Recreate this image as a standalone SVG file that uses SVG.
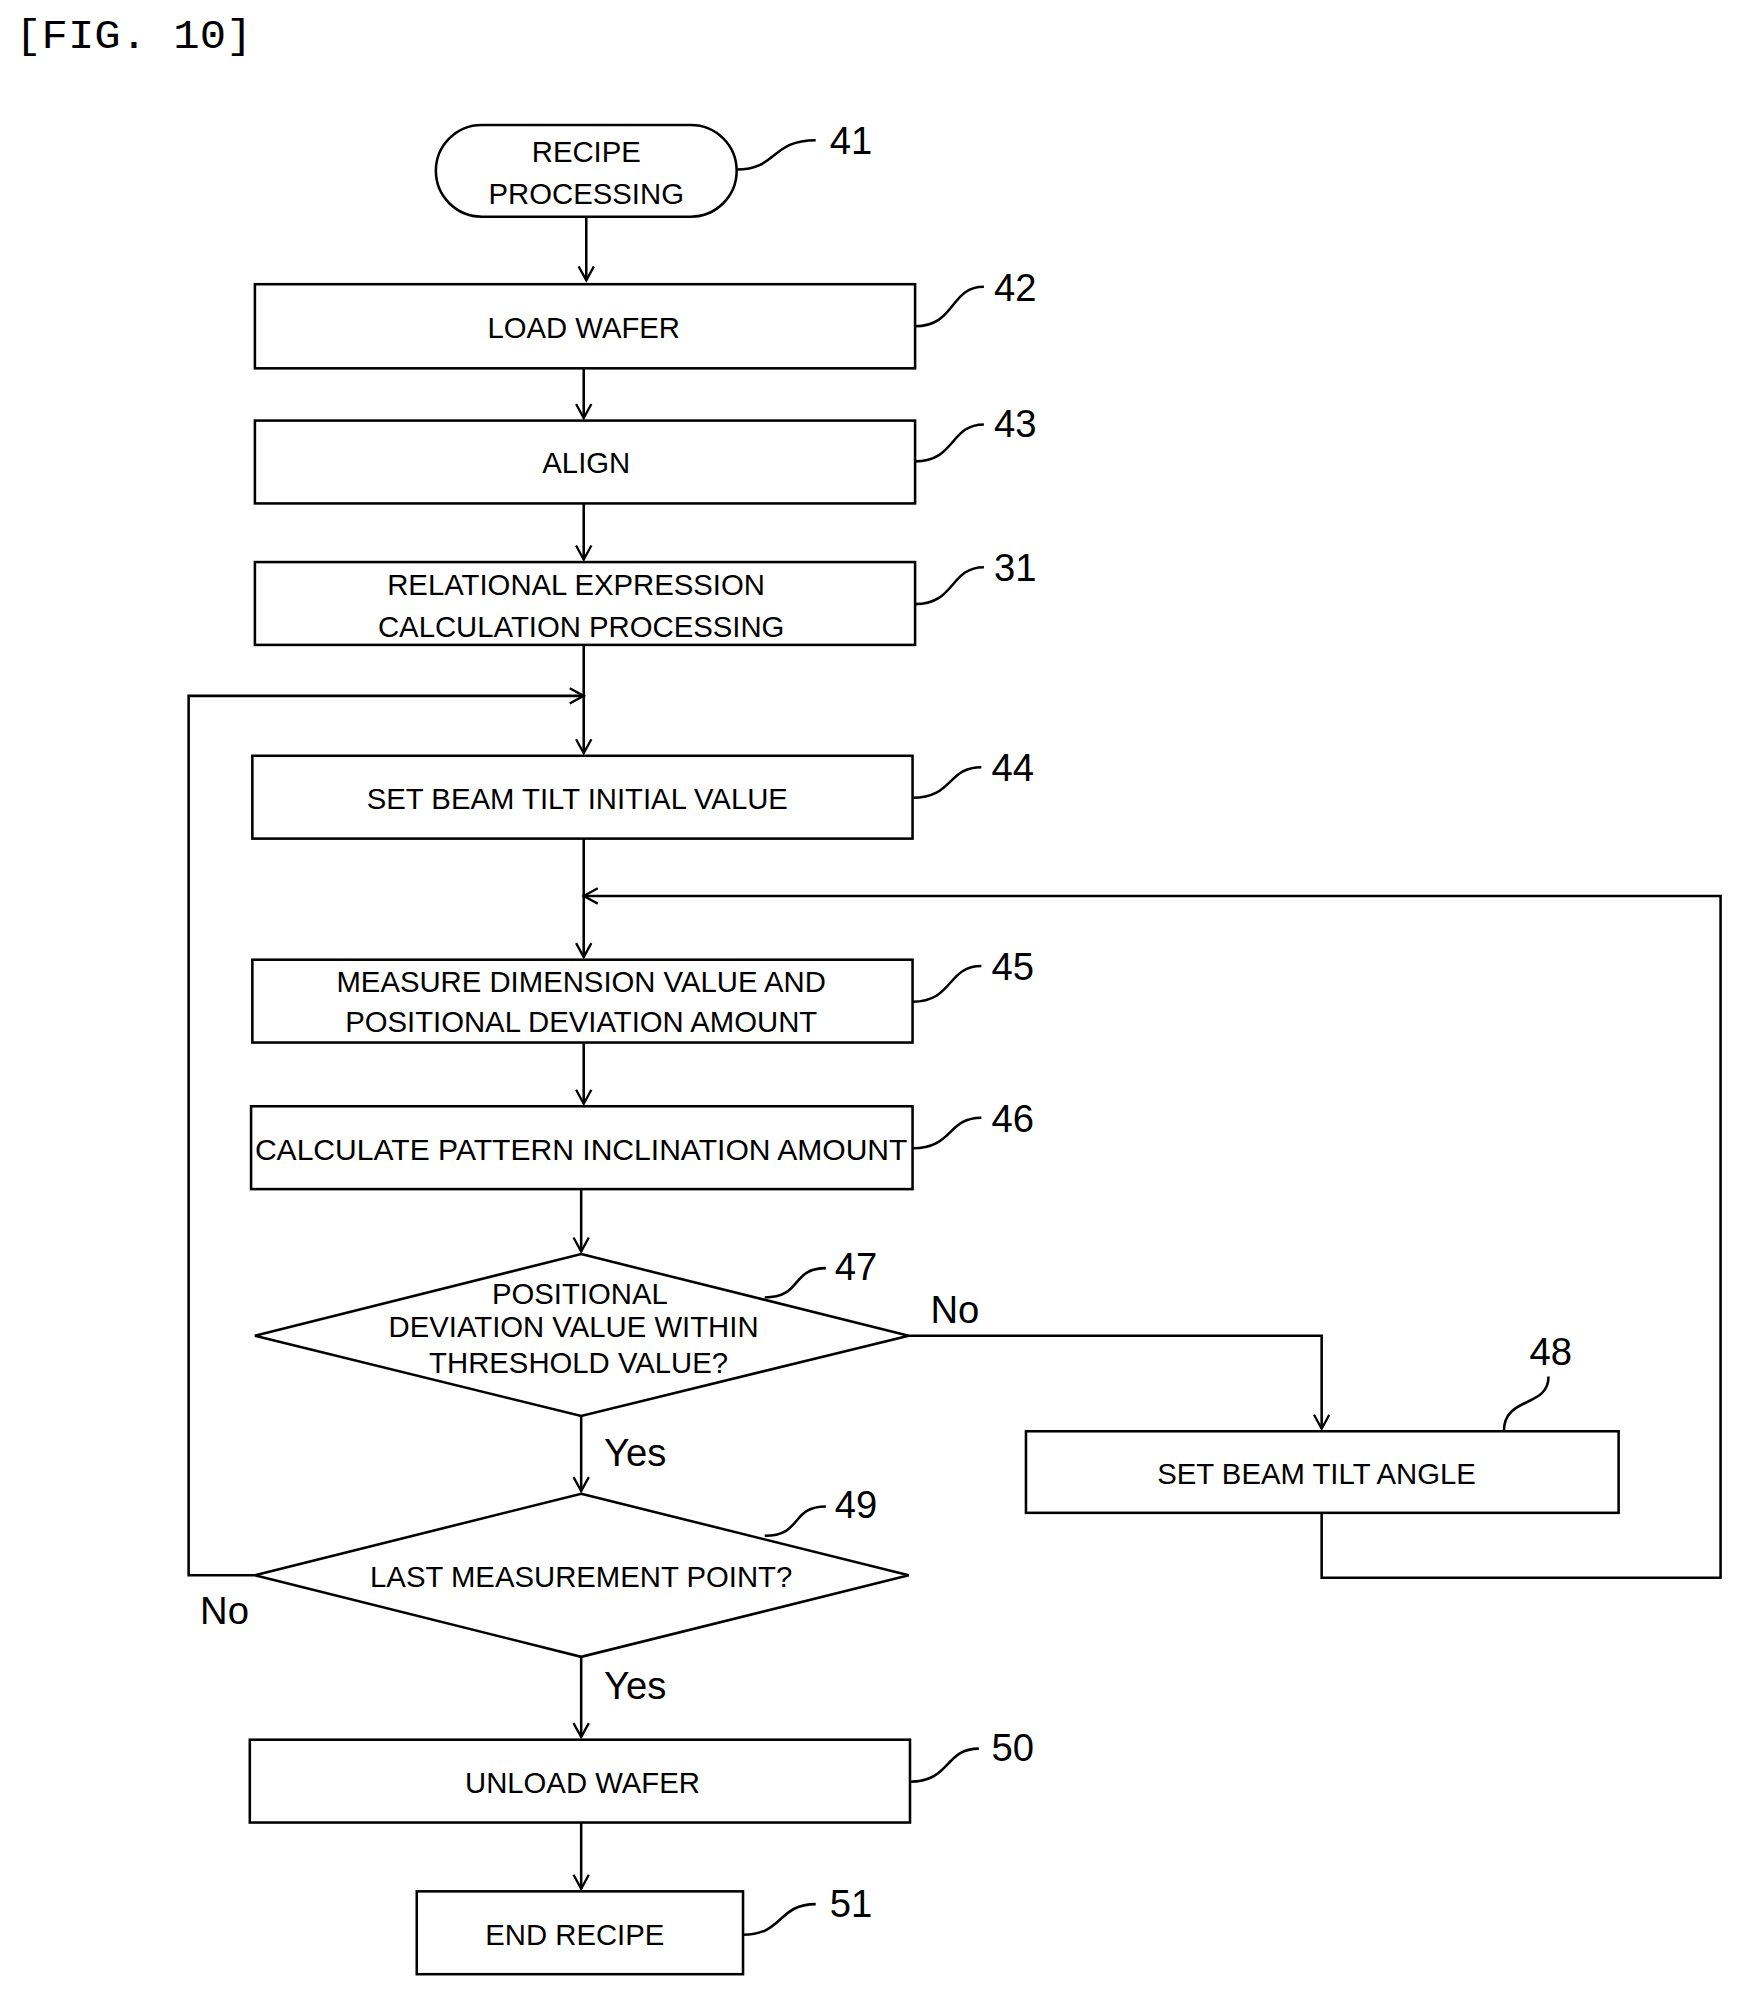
<svg xmlns="http://www.w3.org/2000/svg" width="1741" height="1994" viewBox="0 0 1741 1994">
<style>
.b{fill:#fff;stroke:#000;stroke-width:2}
.t{font-family:"Liberation Sans",Arial,sans-serif;font-size:23px;text-anchor:middle;fill:#000}
.n{font-family:"Liberation Sans",Arial,sans-serif;font-size:30px;fill:#000}
.l{fill:none;stroke:#000;stroke-width:2}
</style>
<defs><marker id="a" markerWidth="14" markerHeight="14" refX="12" refY="7" orient="auto" markerUnits="userSpaceOnUse"><path d="M1,1 L12,7 L1,13" fill="none" stroke="#000" stroke-width="1.8"/></marker></defs>
<rect width="1741" height="1994" fill="#fff"/>
<g transform="scale(1.2745)">
<text x="12" y="38" font-family="Liberation Mono,monospace" font-size="32" textLength="186" lengthAdjust="spacingAndGlyphs">[FIG. 10]</text>
<g id="connectors" class="l">
<path d="M460,170 V220" marker-end="url(#a)"/>
<path d="M458,289 V328" marker-end="url(#a)"/>
<path d="M458,395 V439" marker-end="url(#a)"/>
<path d="M458,506 V591" marker-end="url(#a)"/>
<path d="M200,1236 H148 V546 H458" marker-end="url(#a)"/>
<path d="M458,658 V751" marker-end="url(#a)"/>
<path d="M1037,1187 V1238 H1350 V703 H458" marker-end="url(#a)"/>
<path d="M458,818 V866" marker-end="url(#a)"/>
<path d="M456,933 V982" marker-end="url(#a)"/>
<path d="M713,1048 H1037 V1121" marker-end="url(#a)"/>
<path d="M456,1111 V1170" marker-end="url(#a)"/>
<path d="M456,1300 V1363" marker-end="url(#a)"/>
<path d="M456,1430 V1482" marker-end="url(#a)"/>
<path d="M578,133 C610,133 605,110 640,110"/>
<path d="M718,256 C750,256 745,225 772,225"/>
<path d="M718,362 C750,362 745,333 772,333"/>
<path d="M718,474 C750,474 745,445 772,445"/>
<path d="M716,626 C748,626 743,602 770,602"/>
<path d="M716,786 C748,786 743,758 770,758"/>
<path d="M716,901 C748,901 743,877 770,877"/>
<path d="M600,1018 C630,1018 620,995 648,995"/>
<path d="M1180,1123 C1180,1095 1215,1105 1215,1080"/>
<path d="M600,1205 C630,1205 620,1182 648,1182"/>
<path d="M714,1398 C746,1398 741,1372 768,1372"/>
<path d="M583,1518 C615,1518 610,1494 640,1494"/>
</g>
<g id="n41"><rect class="b" x="342" y="98" width="236" height="72" rx="36"/><text class="t" x="460" y="127">RECIPE</text><text class="t" x="460" y="160">PROCESSING</text><text class="n" x="651" y="121">41</text></g>
<g id="n42"><rect class="b" x="200" y="223" width="518" height="66"/><text class="t" x="458" y="265">LOAD WAFER</text><text class="n" x="780" y="236">42</text></g>
<g id="n43"><rect class="b" x="200" y="330" width="518" height="65"/><text class="t" x="460" y="371">ALIGN</text><text class="n" x="780" y="343">43</text></g>
<g id="n31"><rect class="b" x="200" y="441" width="518" height="65"/><text class="t" x="452" y="467">RELATIONAL EXPRESSION</text><text class="t" x="456" y="500">CALCULATION PROCESSING</text><text class="n" x="780" y="456">31</text></g>
<g id="n44"><rect class="b" x="198" y="593" width="518" height="65"/><text class="t" x="453" y="635">SET BEAM TILT INITIAL VALUE</text><text class="n" x="778" y="613">44</text></g>
<g id="n45"><rect class="b" x="198" y="753" width="518" height="65"/><text class="t" x="456" y="778">MEASURE DIMENSION VALUE AND</text><text class="t" x="456" y="810">POSITIONAL DEVIATION AMOUNT</text><text class="n" x="778" y="769">45</text></g>
<g id="n46"><rect class="b" x="197" y="868" width="519" height="65"/><text class="t" x="456" y="910" textLength="512" lengthAdjust="spacingAndGlyphs">CALCULATE PATTERN INCLINATION AMOUNT</text><text class="n" x="778" y="888">46</text></g>
<g id="n47"><path class="b" d="M456,984 L713,1048 L456,1111 L200,1048 Z"/><text class="t" x="455" y="1023">POSITIONAL</text><text class="t" x="450" y="1049">DEVIATION VALUE WITHIN</text><text class="t" x="454" y="1077">THRESHOLD VALUE?</text><text class="n" x="655" y="1004">47</text><text class="n" x="730" y="1038">No</text><text class="n" x="474" y="1150">Yes</text></g>
<g id="n48"><rect class="b" x="805" y="1123" width="465" height="64"/><text class="t" x="1033" y="1164">SET BEAM TILT ANGLE</text><text class="n" x="1200" y="1071">48</text></g>
<g id="n49"><path class="b" d="M456,1172 L713,1236 L456,1300 L200,1236 Z"/><text class="t" x="456" y="1245">LAST MEASUREMENT POINT?</text><text class="n" x="655" y="1191">49</text><text class="n" x="157" y="1274">No</text><text class="n" x="474" y="1333">Yes</text></g>
<g id="n50"><rect class="b" x="196" y="1365" width="518" height="65"/><text class="t" x="457" y="1407">UNLOAD WAFER</text><text class="n" x="778" y="1382">50</text></g>
<g id="n51"><rect class="b" x="327" y="1484" width="256" height="65"/><text class="t" x="451" y="1526">END RECIPE</text><text class="n" x="651" y="1504">51</text></g>
</g>
</svg>
